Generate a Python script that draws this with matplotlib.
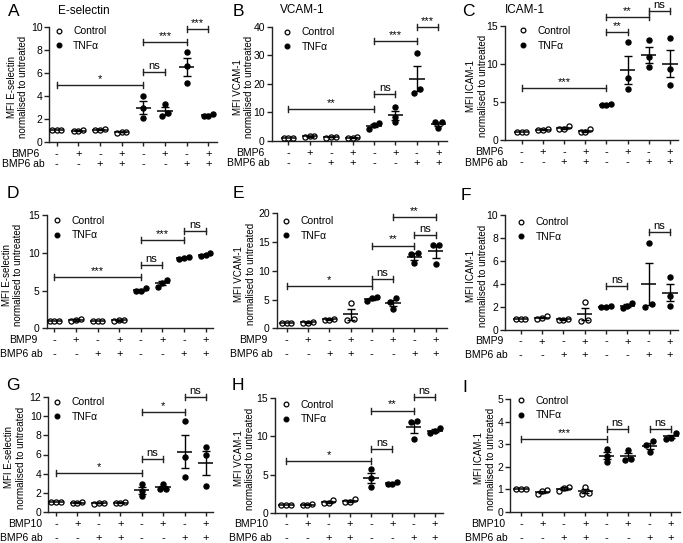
import matplotlib
matplotlib.use('Agg')
import matplotlib.pyplot as plt
from matplotlib.lines import Line2D
import numpy as np

plt.rcParams['font.family'] = ['Liberation Sans', 'DejaVu Sans']

# ---------------- data ----------------
row1_signs = ['-', '+', '-', '+', '-', '+', '-', '+']
row2_signs = ['-', '-', '+', '+', '-', '-', '+', '+']
legend_labels = ['Control', 'TNF\u03b1']

A_vals = [[1, 1, 1], [0.95, 1.05, 0.9], [1.1, 1.0, 1.0], [0.85, 0.8, 0.85],
          [3.95, 2.05, 2.9], [3.3, 2.2, 2.5], [7.8, 6.6, 5.1], [2.45, 2.2, 2.25]]
B_vals = [[1, 1, 1], [1.6, 1.4, 1.5], [1.2, 1.1, 1.2], [1.2, 1.0, 1.1],
          [6.3, 4.2, 5.5], [11.7, 8.4, 6.6], [30.8, 18.0, 16.6], [6.7, 6.5, 4.6]]
C_vals = [[1, 1, 1], [1.5, 1.3, 1.3], [1.8, 1.4, 1.4], [1.5, 1.1, 1.1],
          [4.8, 4.6, 4.6], [12.9, 8.1, 6.7], [13.2, 10.9, 9.6], [13.4, 9.4, 7.3]]
D_vals = [[1, 1, 1], [1.25, 1.0, 1.05], [1, 1, 1], [1.05, 1.0, 1.05],
          [5.4, 5.0, 4.9], [6.4, 5.95, 5.5], [9.4, 9.3, 9.2], [10.0, 9.7, 9.6]]
E_vals = [[1, 1, 1], [1.1, 1.0, 1.0], [1.6, 1.5, 1.5], [4.4, 1.6, 1.4],
          [5.4, 5.3, 4.7], [5.3, 4.6, 3.3], [13.0, 13.1, 11.3], [14.5, 14.5, 11.2]]
F_vals = [[1, 1, 1], [1.2, 1.0, 1.05], [1.0, 0.9, 0.85], [2.4, 0.8, 0.9],
          [2.0, 2.1, 2.0], [2.35, 2.1, 1.9], [7.6, 2.0, 2.3], [4.6, 3.0, 2.1]]
G_vals = [[1, 1, 1], [1.0, 0.9, 0.9], [0.95, 0.85, 0.9], [1.0, 0.9, 0.9],
          [2.9, 2.2, 1.6], [2.9, 2.4, 2.4], [9.5, 5.7, 3.6], [6.8, 5.9, 2.7]]
H_vals = [[1, 1, 1], [1.15, 1.0, 1.0], [1.6, 1.3, 1.3], [1.8, 1.4, 1.4],
          [5.7, 4.6, 3.4], [4.0, 3.8, 3.7], [12.0, 11.9, 9.7], [11.1, 10.7, 10.4]]
I_vals = [[1, 1, 1], [0.95, 0.9, 0.8], [1.1, 1.05, 0.9], [1.1, 0.85, 0.8],
          [2.8, 2.5, 2.2], [2.75, 2.35, 2.3], [3.15, 2.95, 2.65], [3.5, 3.3, 3.25]]

# significance: (group i, group j, height, label)
A_sig = [(0, 4, 4.9, '*'), (4, 5, 6.1, 'ns'), (4, 6, 8.7, '***'), (6, 7, 9.8, '***')]
B_sig = [(0, 4, 11.2, '**'), (4, 5, 16.3, 'ns'), (4, 6, 35.1, '***'), (6, 7, 39.8, '***')]
C_sig = [(0, 4, 6.8, '***'), (4, 5, 14.25, '**'), (4, 6, 16.2, '**'), (6, 7, 17.0, 'ns')]
D_sig = [(0, 4, 6.8, '***'), (4, 5, 8.4, 'ns'), (4, 6, 11.7, '***'), (6, 7, 12.9, 'ns')]
E_sig = [(0, 4, 7.4, '*'), (4, 5, 8.6, 'ns'), (4, 6, 14.4, '**'), (6, 7, 16.3, 'ns'), (5, 7, 19.4, '**')]
F_sig = [(4, 5, 3.8, 'ns'), (6, 7, 8.55, 'ns')]
G_sig = [(0, 4, 4.1, '*'), (4, 5, 5.5, 'ns'), (4, 6, 10.5, '*'), (6, 7, 12.0, 'ns')]
H_sig = [(0, 4, 6.8, '*'), (4, 5, 8.3, 'ns'), (4, 6, 13.4, '**'), (6, 7, 15.2, 'ns')]
I_sig = [(0, 4, 3.22, '***'), (4, 5, 3.68, 'ns'), (6, 7, 3.68, 'ns')]

A_ticks = [0, 2, 4, 6, 8, 10]
B_ticks = [0, 10, 20, 30, 40]
C_ticks = [0, 5, 10, 15]
D_ticks = [0, 5, 10, 15]
E_ticks = [0, 5, 10, 15, 20]
F_ticks = [0, 2, 4, 6, 8, 10]
G_ticks = [0, 2, 4, 6, 8, 10, 12]
H_ticks = [0, 5, 10, 15]
I_ticks = [0, 1, 2, 3, 4, 5]

# ---------------- layout (pixels) ----------------
W, H = 683, 543
fig = plt.figure(figsize=(W / 100, H / 100), dpi=100)

FS = 7.5
panels = [
    dict(letter='A', title='E-selectin', vals=A_vals, sig=A_sig, ticks=A_ticks, ylab='MFI E-selectin',
         treat='BMP6', rect=(49.3, 27, 216.7, 141.7), grp=(56.7, 208.3), ylx=17.5, rowr=(39, 45),
         rows=(12.3, 22.5), leg=(58.5, 32.3), lpos=(14, 12), tpos=(58, 11)),
    dict(letter='B', title='VCAM-1', vals=B_vals, sig=B_sig, ticks=B_ticks, ylab='MFI VCAM-1',
         treat='BMP6', rect=(271.7, 26.7, 446.7, 140.7), grp=(288.3, 438.3), ylx=243.5, rowr=(264, 270),
         rows=(12.3, 22.5), leg=(287, 33.3), lpos=(238, 12), tpos=(280, 10)),
    dict(letter='C', title='ICAM-1', vals=C_vals, sig=C_sig, ticks=C_ticks, ylab='MFI ICAM-1',
         treat='BMP6', rect=(505, 26, 678.3, 140), grp=(521.7, 670), ylx=477, rowr=(503, 508),
         rows=(12.3, 22.5), leg=(523, 32), lpos=(468, 12), tpos=(505, 10)),
    dict(letter='D', title=None, vals=D_vals, sig=D_sig, ticks=D_ticks, ylab='MFI E-selectin',
         treat='BMP9', rect=(46.7, 215, 213.3, 328.3), grp=(54.3, 205.7), ylx=12.5, rowr=(38, 43),
         rows=(11.5, 26), leg=(57, 221.7), lpos=(13, 194), tpos=None),
    dict(letter='E', title=None, vals=E_vals, sig=E_sig, ticks=E_ticks, ylab='MFI VCAM-1',
         treat='BMP9', rect=(276.7, 213.3, 446.7, 328.3), grp=(286.7, 435.7), ylx=245, rowr=(268, 273),
         rows=(11.5, 26), leg=(286, 222.3), lpos=(238, 194), tpos=None),
    dict(letter='F', title=None, vals=F_vals, sig=F_sig, ticks=F_ticks, ylab='MFI ICAM-1',
         treat='BMP9', rect=(505, 215, 678.3, 330), grp=(520.7, 670), ylx=477, rowr=(503, 508),
         rows=(11.5, 25), leg=(521, 223.3), lpos=(466, 195), tpos=None),
    dict(letter='G', title=None, vals=G_vals, sig=G_sig, ticks=G_ticks, ylab='MFI E-selectin',
         treat='BMP10', rect=(48.3, 397.3, 213.3, 511.7), grp=(56, 206), ylx=15, rowr=(42, 43),
         rows=(12.6, 26.6), leg=(57, 403.3), lpos=(13, 385), tpos=None),
    dict(letter='H', title=None, vals=H_vals, sig=H_sig, ticks=H_ticks, ylab='MFI VCAM-1',
         treat='BMP10', rect=(275, 398.3, 443.3, 512.7), grp=(286, 435), ylx=244.5, rowr=(268, 272),
         rows=(11.5, 25.5), leg=(286, 405.7), lpos=(238, 386), tpos=None),
    dict(letter='I', title=None, vals=I_vals, sig=I_sig, ticks=I_ticks, ylab='MFI ICAM-1',
         treat='BMP10', rect=(510, 399.3, 680, 511.7), grp=(521, 671), ylx=485, rowr=(505, 508),
         rows=(12.3, 26.3), leg=(521, 401.7), lpos=(465, 387), tpos=None),
]


def spread_offsets(vals, thresh):
    vals = np.asarray(vals, float)
    order = np.argsort(vals)
    offs = np.zeros(len(vals))
    clusters = [[order[0]]]
    for k in order[1:]:
        if vals[k] - vals[clusters[-1][-1]] < thresh:
            clusters[-1].append(k)
        else:
            clusters.append([k])
    for c in clusters:
        n = len(c)
        if n == 2:
            o = [-0.15, 0.15]
        elif n >= 3:
            o = np.linspace(-0.22, 0.22, n)
        else:
            o = [0.0]
        for k, v in zip(c, o):
            offs[k] = v
    return offs


for p in panels:
    l, t, r, b = p['rect']
    ax = fig.add_axes([l / W, 1 - b / H, (r - l) / W, (b - t) / H])
    ax.patch.set_alpha(0)
    first, last = p['grp']
    s = (last - first) / 7.0
    ax.set_xlim(-(first - l) / s, 7 + (r - last) / s)
    top = p['ticks'][-1]
    ax.set_ylim(0, top)
    ax_h = b - t
    unit_px = ax_h / top
    for sp in ['top', 'right']:
        ax.spines[sp].set_visible(False)
    for sp in ['left', 'bottom']:
        ax.spines[sp].set_linewidth(1.0)
        ax.spines[sp].set_color('#222222')
    ax.set_yticks(p['ticks'])
    ax.set_yticklabels([str(v) for v in p['ticks']], fontsize=FS)
    ax.set_xticks(range(8))
    ax.set_xticklabels([])
    ax.tick_params(axis='y', length=3.5, width=1.0, pad=1.5, color='#222222')
    ax.tick_params(axis='x', length=3.0, width=1.0, color='#222222')

    # data points, mean, SEM
    for g, vals in enumerate(p['vals']):
        vals = np.asarray(vals, float)
        offs = spread_offsets(vals, 4.5 / unit_px)
        filled = g >= 4
        ax.plot(g + offs, vals, 'o', ms=3.7, mec='black', mew=0.9,
                mfc='black' if filled else 'white', ls='none', zorder=3, clip_on=False)
        m = vals.mean()
        sem = vals.std(ddof=1) / np.sqrt(len(vals))
        ax.hlines(m, g - 0.36, g + 0.36, colors='black', lw=1.1, zorder=4)
        if sem > 0:
            ax.errorbar(g, m, yerr=sem, fmt='none', ecolor='black', elinewidth=1.0,
                        capsize=2.7, capthick=1.0, zorder=4)

    # significance brackets
    cap = 3.0 / unit_px
    for i, j, h, lab in p['sig']:
        ax.plot([i, j], [h, h], color='#222222', lw=1.0, clip_on=False)
        ax.plot([i, i], [h - cap, h + cap], color='#222222', lw=1.0, clip_on=False)
        ax.plot([j, j], [h - cap, h + cap], color='#222222', lw=1.0, clip_on=False)
        ax.text((i + j) / 2, h + 1.0 / unit_px, lab, ha='center', va='bottom',
                fontsize=FS + 0.5, clip_on=False)

    # x treatment rows
    r1, r2 = p['rows']
    for g in range(8):
        ax.text(g, -r1 / ax_h, row1_signs[g], transform=ax.get_xaxis_transform(),
                ha='center', va='center', fontsize=FS + 0.5)
        ax.text(g, -r2 / ax_h, row2_signs[g], transform=ax.get_xaxis_transform(),
                ha='center', va='center', fontsize=FS + 0.5)
    fig.text(p['rowr'][0] / W, 1 - (b + r1) / H, p['treat'], ha='right', va='center', fontsize=FS)
    fig.text(p['rowr'][1] / W, 1 - (b + r2) / H, 'BMP6 ab', ha='right', va='center', fontsize=FS)

    # y label
    fig.text(p['ylx'] / W, 1 - ((t + b) / 2 + 3) / H, p['ylab'] + '\nnormalised to untreated',
             rotation=90, ha='center', va='center', fontsize=7, linespacing=1.2,
             multialignment='center')

    # legend
    hs = 0.8 * FS / 72 * 100
    lx, ly = p['leg']
    handles = [Line2D([], [], marker='o', ls='none', ms=3.4, mec='black', mew=0.9, mfc='white'),
               Line2D([], [], marker='o', ls='none', ms=3.4, mec='black', mew=0.9, mfc='black')]
    ax.legend(handles, legend_labels, loc='upper left',
              bbox_to_anchor=((lx - hs / 2 - l) / (r - l), 1 - (ly - 6 - t) / ax_h),
              frameon=False, borderpad=0, borderaxespad=0, handlelength=0.8,
              handletextpad=1.0, labelspacing=0.45, fontsize=FS)

    # panel letter and title
    fig.text(p['lpos'][0] / W, 1 - p['lpos'][1] / H, p['letter'], ha='center', va='center',
             fontsize=12.5)
    if p['title']:
        fig.text(p['tpos'][0] / W, 1 - p['tpos'][1] / H, p['title'], ha='left', va='center',
                 fontsize=8.5)

fig.savefig('out.png', dpi=100)
